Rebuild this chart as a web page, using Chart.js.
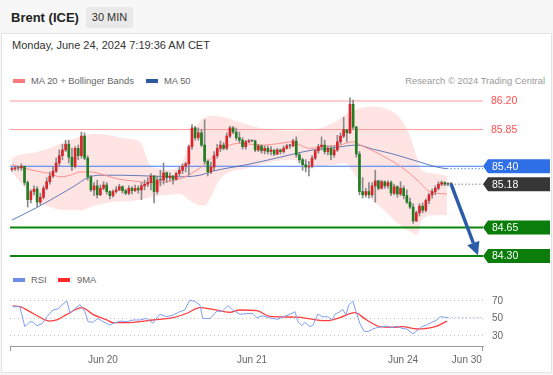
<!DOCTYPE html>
<html lang="en">
<head>
<meta charset="UTF-8">
<title>Brent (ICE) 30 MIN</title>
<script src="https://cdn.jsdelivr.net/npm/chart.js"></script>
<style>
    body { margin: 0; width: 553px; height: 375px; background: #f7f7f7; position: relative; overflow: hidden;
           font-family: 'Liberation Sans', Arial, sans-serif; }
    .abs { position: absolute; white-space: nowrap; }
    #card { left: 1px; top: 33px; width: 549px; height: 338px; background: #fff; border: 1px solid #e3e3e3; }
    #title { left: 11px; top: 10px; font-size: 13px; font-weight: bold; line-height: 16px; color: #222; }
    #badge { left: 86px; top: 7px; width: 47px; height: 21px; background: #e9e9e9; border-radius: 2px;
             text-align: center; line-height: 21px; font-size: 11px; color: #333; }
    #date { left: 12px; top: 39px; font-size: 11px; line-height: 12px; color: #333; }
    .leg { font-size: 9.4px; line-height: 12px; color: #666; }
    .sw { width: 12px; height: 4px; }
    canvas { position: absolute; left: 0; }
</style>
</head>
<body>
<div id="card" class="abs"></div>
<div id="title" class="abs">Brent (ICE)</div>
<div id="badge" class="abs">30 MIN</div>
<div id="date" class="abs">Monday, June 24, 2024 7:19:36 AM CET</div>

<div class="abs sw" style="left:13px; top:79px; background:#ff7b7b;"></div>
<div class="abs leg" style="left:31px; top:74.5px;">MA 20 + Bollinger Bands</div>
<div class="abs sw" style="left:146px; top:79px; background:#2c5aa0;"></div>
<div class="abs leg" style="left:164px; top:74.5px;">MA 50</div>
<div class="abs leg" style="right:8px; top:74.5px; color:#9a9a9a;">Research © 2024 Trading Central</div>

<div class="abs sw" style="left:13px; top:278px; background:#6d8de8;"></div>
<div class="abs leg" style="left:31px; top:273.5px;">RSI</div>
<div class="abs sw" style="left:58px; top:278px; background:#ff2a2a;"></div>
<div class="abs leg" style="left:77px; top:273.5px;">9MA</div>

<canvas id="price" width="553" height="180" style="top:90px;"></canvas>
<canvas id="rsi" width="553" height="85" style="top:290px;"></canvas>

<script>
// candles, 30 min, index 0 = first candle on the left
const firstOpen = 85.36;
const closes = [85.37,85.38,85.38,85.40,85.20,84.99,85.09,85.12,84.96,85.02,
    85.13,85.21,85.28,85.34,85.44,85.53,85.60,85.67,85.51,85.40,
    85.62,85.53,85.77,85.50,85.27,85.11,85.16,85.05,85.13,85.17,
    85.09,85.04,85.09,85.11,85.15,85.10,85.07,85.13,85.10,85.13,
    85.11,85.16,85.18,85.20,85.28,85.09,85.23,85.23,85.32,85.26,
    85.28,85.24,85.31,85.35,85.40,85.43,85.64,85.87,85.75,85.81,
    85.66,85.46,85.33,85.39,85.53,85.62,85.66,85.62,85.77,85.87,
    85.82,85.75,85.72,85.64,85.70,85.71,85.71,85.60,85.65,85.59,
    85.62,85.58,85.60,85.55,85.60,85.58,85.62,85.65,85.65,85.71,
    85.54,85.48,85.42,85.39,85.40,85.50,85.59,85.64,85.66,85.58,
    85.62,85.54,85.60,85.70,85.77,85.85,85.81,86.16,85.88,85.55,
    85.09,85.05,85.09,85.05,85.16,85.22,85.13,85.21,85.16,85.20,
    85.07,85.15,85.06,85.13,85.04,84.96,84.90,84.73,84.83,84.91,
    84.86,84.98,85.05,85.09,85.13,85.18,85.20,85.18,85.18,85.18];
const highs = [85.39,85.40,85.40,85.43,85.40,85.22,85.11,85.16,85.15,85.07,
    85.16,85.26,85.33,85.39,85.50,85.60,85.67,85.72,85.72,85.62,
    85.64,85.66,85.82,85.81,85.53,85.29,85.20,85.23,85.17,85.21,
    85.20,85.10,85.11,85.15,85.18,85.16,85.12,85.16,85.15,85.17,
    85.16,85.20,85.23,85.26,85.31,85.29,85.28,85.35,85.44,85.33,
    85.32,85.29,85.33,85.39,85.43,85.45,85.66,85.91,85.89,85.87,
    85.85,85.97,85.48,85.45,85.58,85.67,85.71,85.69,85.81,85.89,
    85.89,85.87,85.82,85.75,85.72,85.73,85.72,85.72,85.67,85.66,
    85.65,85.65,85.64,85.60,85.62,85.61,85.65,85.67,85.67,85.73,
    85.76,85.56,85.50,85.48,85.46,85.53,85.61,85.67,85.76,85.72,
    85.65,85.65,85.65,85.78,85.81,86.00,85.85,86.24,86.21,85.89,
    85.58,85.26,85.13,85.20,85.20,85.35,85.23,85.23,85.22,85.22,
    85.22,85.18,85.16,85.21,85.16,85.11,85.01,84.94,84.85,84.94,
    84.95,85.00,85.07,85.12,85.16,85.21,85.22,85.21,85.20,85.20];
const lows = [85.34,85.35,85.35,85.35,85.17,84.90,84.95,85.05,84.90,84.93,
    85.00,85.11,85.18,85.26,85.32,85.40,85.48,85.58,85.44,85.35,
    85.38,85.48,85.50,85.48,85.23,85.09,85.04,85.01,85.04,85.11,
    85.06,85.00,85.02,85.07,85.10,85.07,85.05,85.05,85.06,85.09,
    85.07,84.99,85.11,85.15,85.11,84.95,85.06,85.16,85.18,85.20,
    85.22,85.18,85.23,85.28,85.31,85.33,85.29,85.61,85.72,85.72,
    85.64,85.43,85.28,85.31,85.35,85.50,85.58,85.60,85.60,85.75,
    85.80,85.72,85.69,85.61,85.61,85.69,85.70,85.58,85.58,85.56,
    85.55,85.55,85.54,85.53,85.54,85.55,85.56,85.61,85.62,85.64,
    85.51,85.44,85.35,85.33,85.28,85.38,85.48,85.56,85.60,85.55,
    85.54,85.48,85.51,85.58,85.67,85.75,85.70,85.80,85.85,85.51,
    85.05,85.01,85.02,85.01,85.02,84.96,85.11,85.12,85.13,85.13,
    85.04,85.05,85.02,85.04,85.00,84.94,84.88,84.70,84.72,84.79,
    84.83,84.84,84.94,85.01,85.05,85.11,85.16,85.16,85.16,85.17];

// bollinger bands (MA 20) read at candle positions
const bandIdx = [0, 2.5, 7.3, 12, 16.8, 21.5, 26.3, 31, 35.8, 40.5, 43.7, 46.8, 50, 53.2, 56.3, 59.5, 61.1, 63.3, 65.8, 69,
    73.7, 78.5, 83.2, 88, 92.7, 97.5, 102.2, 105.4, 108.5, 113.3, 118, 122.8, 125.9, 128.2, 129.7, 133.9, 137.7];
const upperBand = [85.50, 85.54, 85.57, 85.62, 85.70, 85.76, 85.80, 85.78, 85.74, 85.70, 85.42, 85.37, 85.36, 85.40, 85.70, 85.95, 86.00, 86.02, 86.01, 85.98,
    85.92, 85.87, 85.84, 85.83, 85.84, 85.87, 85.94, 86.03, 86.09, 86.13, 86.11, 85.99, 85.78, 85.51, 85.35, 85.31, 85.28];
const lowerBand = [85.33, 85.21, 85.00, 84.90, 84.86, 84.86, 84.92, 84.96, 84.97, 84.99, 85.02, 85.04, 85.05, 85.06, 84.98, 84.92, 84.92, 85.05, 85.24, 85.33,
    85.37, 85.42, 85.46, 85.48, 85.44, 85.40, 85.42, 85.44, 85.30, 85.02, 84.85, 84.68, 84.60, 84.56, 84.74, 84.80, 84.80];

const ma20Idx = [0, 6.6, 12, 15.2, 18.4, 21.5, 24.7, 27.8, 31, 34.2, 38.3, 43.7, 49, 54.1, 59.5, 62.7, 65.8, 72.2, 79.4, 84.8,
    88.9, 91.1, 94.3, 98.4, 103.8, 107.9, 110.8, 114.2, 119.6, 125, 129.1, 131.3, 134.5, 137.7];
const ma20 = [85.42, 85.35, 85.31, 85.27, 85.29, 85.33, 85.33, 85.31, 85.27, 85.24, 85.22, 85.20, 85.21, 85.26, 85.38, 85.48, 85.60, 85.68, 85.66, 85.68,
    85.70, 85.66, 85.62, 85.64, 85.66, 85.70, 85.65, 85.59, 85.48, 85.34, 85.20, 85.11, 85.07, 85.06];

const ma50Idx = [0, 8.2, 14.6, 19.9, 24, 27.8, 34.2, 43.7, 51.6, 59.5, 63.6, 74.4, 84.8, 90.2, 95.3, 100.6, 106, 109.2, 114.2, 119.6, 125, 130.1, 134.5, 137.7];
const ma50 = [84.74, 84.90, 85.04, 85.16, 85.26, 85.29, 85.29, 85.28, 85.27, 85.29, 85.34, 85.42, 85.51, 85.56, 85.60, 85.62, 85.65, 85.66, 85.61, 85.56, 85.50, 85.44, 85.39, 85.37];

// levels
const resistances = [86.20, 85.85];
const ma50Level = 85.40;
const lastPrice = 85.18;
const supports = [84.65, 84.30];
const arrowFrom = [139, 85.18];
const arrowTo = [147.5, 84.31];

// RSI panel
const rsiIdx = [0.3, 2.5, 4.1, 5.7, 6.6, 7.9, 9.5, 11.1, 13, 14.6, 15.8, 17.4, 18.4, 19.9, 21.5, 23.1, 24.1, 25.6, 27.2, 28.8,
    31, 32, 34.2, 36.4, 38.3, 40.5, 42.7, 44.6, 46.8, 49.1, 50.9, 53.2, 54.7, 56.3, 57.9, 59.5, 60.4, 62.7, 64.9, 66.5,
    68.4, 69.9, 72.2, 74.4, 76.3, 77.5, 79.4, 81.6, 84.2, 85.8, 88, 89.6, 90.5, 91.8, 92.7, 94.3, 95.3, 96.8, 98.4, 100,
    101.3, 102.2, 103.8, 104.7, 105.7, 106.6, 107.9, 108.9, 110.1, 111.4, 112.7, 114.2, 115.5, 117.1, 118.7, 120.3, 121.8, 123.4, 125, 126.9,
    128.5, 129.7, 131.3, 132.9, 134.5, 135.4, 137, 138];
const rsiVals = [63.5, 63.5, 40.6, 46.4, 46, 41.8, 44, 52, 59.7, 61, 65.4, 70, 56, 61, 66, 58, 46.4, 45.6, 50, 46.4,
    42.6, 44.3, 47, 46.4, 48.3, 48.3, 50.2, 44.5, 54.8, 52, 53.9, 57.8, 59.7, 71, 69.5, 65.4, 50.2, 50, 58.5, 58,
    64.7, 59.7, 54.8, 55.6, 55.6, 51, 53, 50.6, 49, 52, 54.8, 57.8, 46.4, 41.8, 45.6, 40.6, 42.6, 54.8, 52, 52,
    48.3, 54.8, 57.8, 60.5, 54, 65.4, 70, 57.8, 44.5, 35.7, 35, 38, 39.5, 40.6, 41.3, 39.5, 41.3, 38.8, 38, 32.3,
    36.8, 40.6, 42.6, 45.6, 48.3, 52, 51.5, 51];
const maIdx = [0.3, 2.5, 6.6, 12, 14.2, 17.4, 22.2, 25.6, 30.1, 32, 38.3, 44.6, 50.9, 55.4, 59.5, 63.6, 69, 72.2, 77.5, 81.6,
    90.2, 95.3, 99.7, 103.8, 108.5, 112.3, 116.5, 120.6, 123.7, 128.2, 131.3, 134.5, 137.7];
const maVals = [64.3, 63.5, 56, 47.1, 48.3, 54.8, 62.4, 54.8, 48.3, 45.2, 45.6, 48.3, 51, 56, 62.4, 60.5, 57, 59.7, 59, 52.5,
    51.5, 49, 47.5, 51, 56.6, 48.3, 40.6, 40, 40.6, 38, 38.8, 41.3, 47];
const rsiTicks = [30, 50, 70];

const tickIdx = [28.8, 76, 123.8, 144];
const tickLabels = ['Jun 20', 'Jun 21', 'Jun 24', 'Jun 30'];

const xMin = -0.6, xMax = 149.1;
const FONT = "'Liberation Sans', Arial, sans-serif";
Chart.defaults.font.family = FONT;

const pts = (xs, ys) => xs.map((v, i) => ({x: v, y: ys[i]}));
const span = (v, from) => [{x: from === undefined ? xMin : from, y: v}, {x: xMax + 1, y: v}];

const opens = [firstOpen].concat(closes.slice(0, -1));
const bodies = closes.map((c, i) => ({x: i, y: [opens[i], c]}));
const wicks = closes.map((c, i) => ({x: i, y: [lows[i], highs[i]]}));
const bodyColors = closes.map((c, i) => c > opens[i] ? '#d9242a' : (c < opens[i] ? '#1f7d22' : '#666'));

const flat = {pointRadius: 0, fill: false};

function tag(ctx, x0, yc, color, text) {
    const h = 14, tip = 5, x1 = 550;
    ctx.fillStyle = color;
    ctx.beginPath();
    ctx.moveTo(x0, yc);
    ctx.lineTo(x0 + tip, yc - h / 2);
    ctx.lineTo(x1, yc - h / 2);
    ctx.lineTo(x1, yc + h / 2);
    ctx.lineTo(x0 + tip, yc + h / 2);
    ctx.closePath();
    ctx.fill();
    ctx.fillStyle = '#fff';
    ctx.fillText(text, x0 + 9, yc + 0.5);
}

const priceOverlay = {
    id: 'priceOverlay',
    afterDraw(chart) {
        const ctx = chart.ctx;
        const x = chart.scales.x, y = chart.scales.y;
        const right = chart.chartArea.right;
        ctx.save();
        ctx.font = '10.5px ' + FONT;
        ctx.textBaseline = 'middle';
        ctx.textAlign = 'left';
        resistances.forEach(v => {
            ctx.fillStyle = '#ff4f4f';
            ctx.fillText(v.toFixed(2), 491, y.getPixelForValue(v) + 0.5);
        });
        tag(ctx, right, y.getPixelForValue(ma50Level), '#2f6fe6', ma50Level.toFixed(2));
        tag(ctx, right, y.getPixelForValue(lastPrice), '#363636', lastPrice.toFixed(2));
        supports.forEach(v => tag(ctx, right, y.getPixelForValue(v), '#0b7d0b', v.toFixed(2)));

        // forecast arrow
        const ax0 = x.getPixelForValue(arrowFrom[0]), ay0 = y.getPixelForValue(arrowFrom[1]);
        const ax1 = x.getPixelForValue(arrowTo[0]), ay1 = y.getPixelForValue(arrowTo[1]);
        const ang = Math.atan2(ay1 - ay0, ax1 - ax0);
        const headLen = 13, headW = 6.5;
        const bx = ax1 - headLen * Math.cos(ang), by = ay1 - headLen * Math.sin(ang);
        ctx.strokeStyle = '#2b5ca8';
        ctx.fillStyle = '#2b5ca8';
        ctx.lineWidth = 3.5;
        ctx.beginPath();
        ctx.moveTo(ax0, ay0);
        ctx.lineTo(bx, by);
        ctx.stroke();
        ctx.beginPath();
        ctx.moveTo(ax1, ay1);
        ctx.lineTo(bx + headW * Math.sin(ang), by - headW * Math.cos(ang));
        ctx.lineTo(bx - headW * Math.sin(ang), by + headW * Math.cos(ang));
        ctx.closePath();
        ctx.fill();
        ctx.restore();
    }
};

new Chart(document.getElementById('price'), {
    type: 'line',
    data: {
        datasets: [
            {type: 'bar', data: bodies, backgroundColor: bodyColors, barThickness: 2, grouped: false, minBarLength: 1, order: 0},
            {type: 'bar', data: wicks, backgroundColor: '#8a8a8a', barThickness: 1, grouped: false, order: 1},
            {data: pts(ma20Idx, ma20), borderColor: '#ff8f8f', borderWidth: 1, cubicInterpolationMode: 'monotone', order: 2, ...flat},
            {data: pts(ma50Idx, ma50), borderColor: 'rgba(60,95,170,0.8)', borderWidth: 1, cubicInterpolationMode: 'monotone', order: 2, ...flat},
            {data: span(lastPrice, arrowFrom[0]), borderColor: '#888', borderWidth: 1, borderDash: [1.5, 2], order: 3, ...flat},
            {data: span(ma50[ma50.length - 1], ma50Idx[ma50Idx.length - 1]), borderColor: '#5f86d6', borderWidth: 1, borderDash: [1.5, 2], order: 3, ...flat},
            {data: span(resistances[0]), borderColor: '#ff9a9a', borderWidth: 1, order: 4, ...flat},
            {data: span(resistances[1]), borderColor: '#ff9a9a', borderWidth: 1, order: 4, ...flat},
            {data: span(ma50Level), borderColor: '#3d7df5', borderWidth: 1.2, order: 4, ...flat},
            {data: span(supports[0]), borderColor: '#0e850e', borderWidth: 2, order: 4, ...flat},
            {data: span(supports[1]), borderColor: '#0e850e', borderWidth: 2, order: 4, ...flat},
            {data: pts(bandIdx, upperBand), borderWidth: 0, pointRadius: 0, cubicInterpolationMode: 'monotone',
             fill: '+1', backgroundColor: 'rgba(255,90,90,0.16)', order: 5},
            {data: pts(bandIdx, lowerBand), borderWidth: 0, pointRadius: 0, cubicInterpolationMode: 'monotone', fill: false, order: 5}
        ]
    },
    options: {
        responsive: false,
        animation: false,
        devicePixelRatio: 1,
        layout: {autoPadding: false, padding: {left: 10, right: 70, top: 0, bottom: 0}},
        plugins: {legend: {display: false}, tooltip: {enabled: false}},
        scales: {
            x: {type: 'linear', min: xMin, max: xMax, offset: false, display: false},
            y: {min: 84.128, max: 86.335, display: false}
        }
    },
    plugins: [priceOverlay]
});

const axisEnds = {
    id: 'axisEnds',
    afterDraw(chart) {
        const {ctx, chartArea} = chart;
        ctx.save();
        ctx.strokeStyle = '#999';
        ctx.lineWidth = 1;
        ctx.beginPath();
        ctx.moveTo(chartArea.left + 0.5, chartArea.bottom);
        ctx.lineTo(chartArea.left + 0.5, chartArea.bottom + 5);
        ctx.moveTo(chartArea.right - 0.5, chartArea.bottom);
        ctx.lineTo(chartArea.right - 0.5, chartArea.bottom + 5);
        ctx.stroke();
        ctx.restore();
    }
};

// keep the axes from pushing the plot area inwards
const noPad = s => { s.paddingTop = 0; s.paddingBottom = 0; s.paddingLeft = 0; s.paddingRight = 0; };

new Chart(document.getElementById('rsi'), {
    type: 'line',
    data: {
        datasets: [
            {data: pts(rsiIdx, rsiVals), borderColor: '#7f9ff2', borderWidth: 1, ...flat},
            {data: span(rsiVals[rsiVals.length - 1], rsiIdx[rsiIdx.length - 1]), borderColor: '#a9bdf3', borderWidth: 1, borderDash: [1.5, 2], ...flat},
            {data: pts(maIdx, maVals), borderColor: '#ff3d3d', borderWidth: 1.3, cubicInterpolationMode: 'monotone', ...flat}
        ]
    },
    options: {
        responsive: false,
        animation: false,
        devicePixelRatio: 1,
        layout: {autoPadding: false, padding: {left: 10, right: 0, top: 0, bottom: 0}},
        plugins: {legend: {display: false}, tooltip: {enabled: false}},
        scales: {
            x: {
                type: 'linear', min: xMin, max: xMax, offset: false,
                afterBuildTicks: s => { s.ticks = tickIdx.map(v => ({value: v})); },
                afterFit: s => { s.height = 29; noPad(s); },
                grid: {display: false, drawTicks: false},
                border: {display: true, color: '#9a9a9a'},
                ticks: {callback: (v, i) => tickLabels[i], color: '#666', font: {size: 10}, padding: 8, maxRotation: 0, autoSkip: false}
            },
            y: {
                position: 'right', min: 18.57, max: 82.57,
                afterBuildTicks: s => { s.ticks = rsiTicks.map(v => ({value: v})); },
                afterFit: s => { s.width = 70; noPad(s); },
                grid: {color: '#c4c4c4', drawTicks: false},
                border: {display: false, dash: [1, 3]},
                ticks: {color: '#666', font: {size: 10}, padding: 9}
            }
        }
    },
    plugins: [axisEnds]
});
</script>
</body>
</html>
